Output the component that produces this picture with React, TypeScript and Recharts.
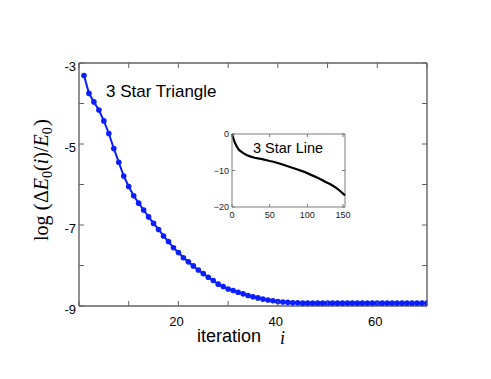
import React from "react";
import { LineChart, Line, XAxis, YAxis, ReferenceLine } from "recharts";

// main plot: 3 Star Triangle convergence
const iterations = Array.from({ length: 70 }, (_, k) => k + 1);
const logError = [
  -3.31, -3.75, -3.96, -4.16, -4.43, -4.74, -5.11, -5.45, -5.79, -6.05,
  -6.28, -6.46, -6.63, -6.8, -6.96, -7.11, -7.27, -7.41, -7.56, -7.68,
  -7.81, -7.91, -8.01, -8.11, -8.2, -8.29, -8.37, -8.46, -8.52, -8.58,
  -8.62, -8.66, -8.7, -8.74, -8.77, -8.8, -8.83, -8.85, -8.87, -8.89,
  -8.9, -8.91, -8.92, -8.92, -8.93, -8.93, -8.93, -8.93, -8.93, -8.93,
  -8.93, -8.93, -8.93, -8.93, -8.93, -8.93, -8.93, -8.93, -8.93, -8.93,
  -8.93, -8.93, -8.93, -8.93, -8.93, -8.93, -8.93, -8.93, -8.93, -8.93,
];
const xTicks = [0, 10, 20, 30, 40, 50, 60, 70];
const xLabels = [20, 40, 60];
const yTicks = [-9, -8, -7, -6, -5, -4, -3];
const yLabels = [-9, -7, -5, -3];

// inset: 3 Star Line
const insetX = [0, 2, 4, 6, 8, 10, 15, 20, 25, 30, 40, 50, 55, 65, 75, 85, 95, 105, 115, 125, 130, 135, 140, 145, 150];
const insetY = [0, -1.3, -2.5, -3.3, -4.0, -4.5, -5.25, -5.8, -6.2, -6.5, -6.9, -7.4, -7.6, -8.2, -8.9, -9.6, -10.3, -11.2, -12.1, -13.2, -13.7, -14.3, -15.0, -15.9, -16.8];
const insetXTicks = [0, 50, 100, 150];
const insetYTicks = [-20, -10, 0];

const mainData = iterations.map((i, k) => ({ i, v: logError[k] }));
const insetData = insetX.map((x, k) => ({ x, y: insetY[k] }));

const W = 491;
const H = 379;
const PLOT = { left: 79, top: 63, right: 427, bottom: 306 };
const BLUE = "#0a1eff";
const AXIS = "#626262";
const SANS = "Liberation Sans, Arial, sans-serif";
const SERIF = "Liberation Serif, Times New Roman, serif";

const XTick = ({ x, payload }: any) => (
  <g>
    <line x1={x} x2={x} y1={PLOT.bottom} y2={PLOT.bottom - 5} stroke={AXIS} />
    <line x1={x} x2={x} y1={PLOT.top} y2={PLOT.top + 5} stroke={AXIS} />
    {xLabels.includes(payload.value) && (
      <text x={x - 2} y={PLOT.bottom + 20} textAnchor="middle" fontFamily={SANS} fontSize={13} fill="#000">
        {payload.value}
      </text>
    )}
  </g>
);

const YTick = ({ y, payload }: any) => (
  <g>
    <line x1={PLOT.left} x2={PLOT.left + 5} y1={y} y2={y} stroke={AXIS} />
    <line x1={PLOT.right} x2={PLOT.right - 5} y1={y} y2={y} stroke={AXIS} />
    {yLabels.includes(payload.value) && (
      <text x={PLOT.left - 3} y={y + 8} textAnchor="end" fontFamily={SANS} fontSize={13} fill="#000">
        {payload.value}
      </text>
    )}
  </g>
);

// inset layout (local coordinates)
const IW = 155;
const IH = 100;
const IN = { left: 32, top: 9, right: 145, bottom: 82 };
const INSET_AXIS = "#7a7a7a";

const InsetXTick = ({ x, payload }: any) => (
  <g>
    <line x1={x} x2={x} y1={IN.bottom} y2={IN.bottom - 3} stroke={INSET_AXIS} />
    <line x1={x} x2={x} y1={IN.top} y2={IN.top + 3} stroke={INSET_AXIS} />
    <text x={x} y={IN.bottom + 11} textAnchor="middle" fontFamily={SANS} fontSize={9} fill="#222">
      {payload.value}
    </text>
  </g>
);

const InsetYTick = ({ y, payload }: any) => (
  <g>
    <line x1={IN.left} x2={IN.left + 3} y1={y} y2={y} stroke={INSET_AXIS} />
    <line x1={IN.right} x2={IN.right - 3} y1={y} y2={y} stroke={INSET_AXIS} />
    <text x={IN.left - 3} y={y + 3} textAnchor="end" fontFamily={SANS} fontSize={9} fill="#222">
      {payload.value < 0 ? "\u2212" + Math.abs(payload.value) : payload.value}
    </text>
  </g>
);

export default function App() {
  return (
    <div style={{ position: "absolute", left: 0, top: 0, width: W, height: H, background: "#fff" }}>
      <LineChart
        width={W}
        height={H}
        data={mainData}
        margin={{ top: PLOT.top, right: W - PLOT.right, bottom: H - PLOT.bottom - 30, left: PLOT.left - 40 }}
      >
        <XAxis
          dataKey="i"
          type="number"
          domain={[0, 70]}
          ticks={xTicks}
          tick={<XTick />}
          tickLine={false}
          axisLine={{ stroke: AXIS, strokeWidth: 1.4 }}
          height={30}
          allowDataOverflow
        />
        <YAxis
          type="number"
          domain={[-9, -3]}
          ticks={yTicks}
          tick={<YTick />}
          tickLine={false}
          axisLine={{ stroke: AXIS, strokeWidth: 1.4 }}
          width={40}
          allowDataOverflow
        />
        <ReferenceLine y={-3} stroke={AXIS} strokeWidth={1.4} />
        <ReferenceLine x={70} stroke={AXIS} strokeWidth={1.4} />
        <Line
          dataKey="v"
          stroke={BLUE}
          strokeWidth={2}
          dot={{ r: 2.8, fill: BLUE, stroke: BLUE, strokeWidth: 0 }}
          isAnimationActive={false}
        />
      </LineChart>

      <div style={{ position: "absolute", left: 200, top: 125, width: IW, height: IH, background: "#fff" }}>
        <LineChart width={IW} height={IH} data={insetData} margin={{ top: IN.top, right: IW - IN.right, bottom: 0, left: 0 }}>
          <XAxis
            dataKey="x"
            type="number"
            domain={[0, 150]}
            ticks={insetXTicks}
            tick={<InsetXTick />}
            tickLine={false}
            axisLine={{ stroke: INSET_AXIS }}
            height={IH - IN.bottom}
          />
          <YAxis
            type="number"
            domain={[-20, 0]}
            ticks={insetYTicks}
            tick={<InsetYTick />}
            tickLine={false}
            axisLine={{ stroke: INSET_AXIS }}
            width={IN.left}
          />
          <ReferenceLine y={0} stroke={INSET_AXIS} />
          <ReferenceLine x={150} stroke={INSET_AXIS} />
          <Line dataKey="y" stroke="#000" strokeWidth={2.2} dot={false} isAnimationActive={false} />
        </LineChart>
      </div>

      <svg width={W} height={H} style={{ position: "absolute", left: 0, top: 0, pointerEvents: "none" }}>
        <text x={106} y={97} fontFamily={SANS} fontSize={17} fill="#000">3 Star Triangle</text>
        <text x={253} y={153} fontFamily={SANS} fontSize={14.5} fill="#000">3 Star Line</text>
        <text x={197} y={342} fontFamily={SANS} fontSize={18} fill="#000">iteration</text>
        <text x={280} y={344} fontFamily={SERIF} fontStyle="italic" fontSize={18} fill="#000">i</text>
        <text transform="translate(48,180) rotate(-90)" textAnchor="middle" fontFamily={SERIF} fontSize={20} fill="#000">
          log
          <tspan dx={5} fontSize={22}>(</tspan>
          <tspan>Δ</tspan>
          <tspan fontStyle="italic">E</tspan>
          <tspan fontSize={14} dy={4}>0</tspan>
          <tspan dy={-4}>(</tspan>
          <tspan fontStyle="italic">i</tspan>
          <tspan>)/</tspan>
          <tspan fontStyle="italic">E</tspan>
          <tspan fontSize={14} dy={4}>0</tspan>
          <tspan dy={-4} dx={1} fontSize={22}>)</tspan>
        </text>
      </svg>
    </div>
  );
}
